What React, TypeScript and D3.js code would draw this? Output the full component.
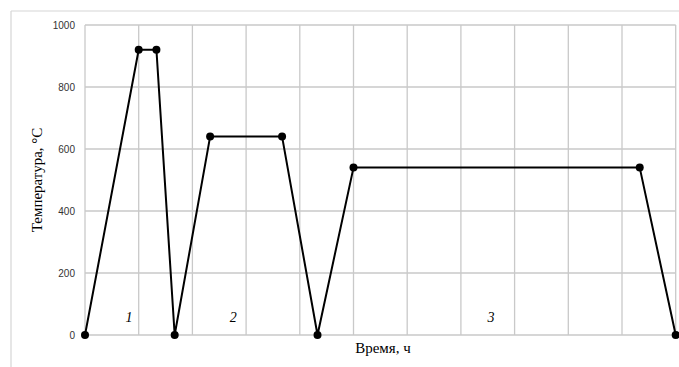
import * as d3 from 'd3';
import React from 'react';

// time (h) and temperature (°C) of the heat treatment cycle
const hours = [0, 1, 1.33, 1.67, 2.33, 3.67, 4.33, 5, 10.33, 11];
const temps = [0, 920, 920, 0, 640, 640, 0, 540, 540, 0];
const yTicks = [0, 200, 400, 600, 800, 1000];
const xGrid = d3.range(0, 12);
const stageLabels = ['1', '2', '3'];
const stageX = [0.82, 2.76, 7.56];

export default function App() {
    const W = 679;
    const H = 367;
    const m = { left: 85, right: 3.3, top: 25, bottom: 32 };

    const x = d3.scaleLinear().domain([0, 11]).range([m.left, W - m.right]);
    const y = d3.scaleLinear().domain([0, 1000]).range([H - m.bottom, m.top]);

    const pts = hours.map((h, i) => [h, temps[i]] as [number, number]);
    const line = d3.line<[number, number]>().x((d) => x(d[0])).y((d) => y(d[1]));

    const grid = '#c9c9c9';
    const serif = 'Liberation Serif, Times New Roman, serif';

    return (
        <svg
            width={W}
            height={H}
            style={{ position: 'absolute', left: 0, top: 0, background: '#fff' }}
        >
            {/* chart frame */}
            <line x1={11} x2={W} y1={11} y2={11} stroke="#d6d6d6" strokeWidth={1.2} />
            <line x1={11} x2={11} y1={11} y2={H} stroke="#d6d6d6" strokeWidth={1.2} />

            {yTicks.map((t) => (
                <g key={t}>
                    <line x1={x(0)} x2={x(11)} y1={y(t)} y2={y(t)} stroke={grid} strokeWidth={1.3} />
                    <text
                        x={75}
                        y={y(t)}
                        dy="0.35em"
                        textAnchor="end"
                        fontFamily="Liberation Sans, Arial, sans-serif"
                        fontSize={10}
                        fill="#333"
                    >
                        {t}
                    </text>
                </g>
            ))}
            {xGrid.map((g) => (
                <line key={g} x1={x(g)} x2={x(g)} y1={y(0)} y2={y(1000)} stroke={grid} strokeWidth={1.3} />
            ))}

            <path d={line(pts) ?? ''} fill="none" stroke="#000" strokeWidth={2} strokeLinejoin="round" />
            {pts.map((p, i) => (
                <circle key={i} cx={x(p[0])} cy={y(p[1])} r={4} fill="#000" />
            ))}

            {stageLabels.map((s, i) => (
                <text
                    key={s}
                    x={x(stageX[i])}
                    y={322}
                    textAnchor="middle"
                    fontFamily={serif}
                    fontStyle="italic"
                    fontSize={14}
                    fill="#000"
                >
                    {s}
                </text>
            ))}

            <text
                transform={`translate(42,180) rotate(-90)`}
                textAnchor="middle"
                fontFamily={serif}
                fontSize={15}
                fill="#000"
            >
                Температура, °С
            </text>
            <text
                x={383}
                y={353}
                textAnchor="middle"
                fontFamily={serif}
                fontSize={15}
                fill="#000"
            >
                Время, ч
            </text>
        </svg>
    );
}
